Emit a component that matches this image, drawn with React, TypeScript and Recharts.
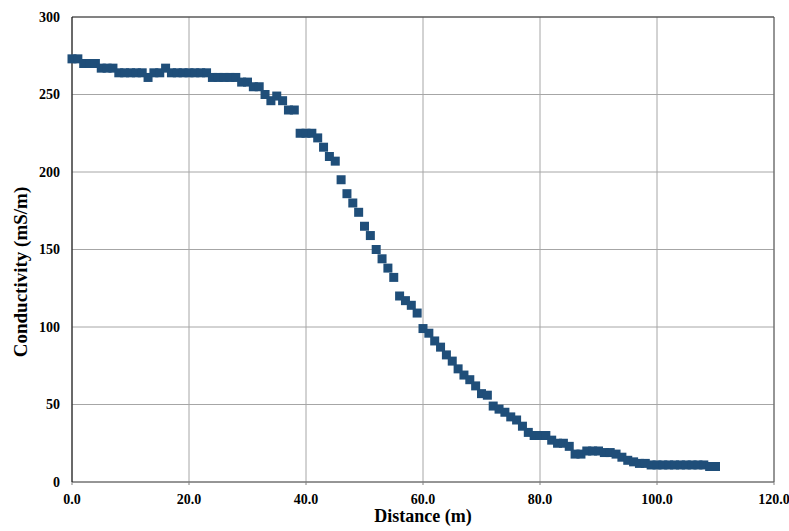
import React from 'react';
import {
  ScatterChart,
  Scatter,
  XAxis,
  YAxis,
  CartesianGrid,
  ReferenceLine,
} from 'recharts';

const distance: number[] = [
  0, 1, 2, 3, 4, 5, 6, 7, 8, 9,
  10, 11, 12, 13, 14, 15, 16, 17, 18, 19,
  20, 21, 22, 23, 24, 25, 26, 27, 28, 29,
  30, 31, 32, 33, 34, 35, 36, 37, 38, 39,
  40, 41, 42, 43, 44, 45, 46, 47, 48, 49,
  50, 51, 52, 53, 54, 55, 56, 57, 58, 59,
  60, 61, 62, 63, 64, 65, 66, 67, 68, 69,
  70, 71, 72, 73, 74, 75, 76, 77, 78, 79,
  80, 81, 82, 83, 84, 85, 86, 87, 88, 89,
  90, 91, 92, 93, 94, 95, 96, 97, 98, 99,
  100, 101, 102, 103, 104, 105, 106, 107, 108, 109,
  110,
];

const conductivity: number[] = [
  273, 273, 270, 270, 270, 267, 267, 267, 264, 264,
  264, 264, 264, 261, 264, 264, 267, 264, 264, 264,
  264, 264, 264, 264, 261, 261, 261, 261, 261, 258,
  258, 255, 255, 250, 246, 249, 246, 240, 240, 225,
  225, 225, 222, 216, 210, 207, 195, 186, 180, 174,
  165, 159, 150, 144, 138, 132, 120, 117, 114, 109,
  99, 96, 91, 87, 82, 78, 73, 69, 66, 62,
  57, 56, 49, 47, 45, 42, 40, 36, 32, 30,
  30, 30, 27, 25, 25, 23, 18, 18, 20, 20,
  20, 19, 19, 18, 16, 14, 13, 12, 12, 11,
  11, 11, 11, 11, 11, 11, 11, 11, 11, 10,
  10,
];

const xTicks: number[] = [0, 20, 40, 60, 80, 100, 120];
const yTicks: number[] = [0, 50, 100, 150, 200, 250, 300];

const data = distance.map((d, i) => ({ x: d, y: conductivity[i] }));

const FONT = '"Liberation Serif", "Times New Roman", serif';
const MARK = '#1f4e79';

const SquareMark = (props: any) => {
  const { cx, cy } = props;
  if (cx == null || cy == null) return null;
  return <rect x={cx - 4.5} y={cy - 4.5} width={9} height={9} fill={MARK} />;
};

const YLabel = () => (
  <text
    x={20}
    y={272}
    transform="rotate(-90 20 272)"
    textAnchor="middle"
    dominantBaseline="central"
    fontFamily={FONT}
    fontWeight="bold"
    fontSize={19}
    fill="#000"
  >
    Conductivity (mS/m)
  </text>
);

export default function App() {
  return (
    <div style={{ position: 'absolute', left: 0, top: 0, background: '#fff' }}>
      <ScatterChart
        width={789}
        height={531}
        margin={{ top: 17, right: 15, bottom: 0, left: 0 }}
      >
        <CartesianGrid stroke="#a6a6a6" strokeWidth={1} />
        <XAxis
          type="number"
          dataKey="x"
          domain={[0, 120]}
          ticks={xTicks}
          interval={0}
          height={49}
          tickFormatter={(v: number) => v.toFixed(1)}
          tick={{ fontFamily: FONT, fontWeight: 'bold', fontSize: 14, fill: '#000' }}
          tickSize={3}
          tickMargin={9}
          tickLine={{ stroke: '#808080' }}
          axisLine={{ stroke: '#595959' }}
          label={{
            value: 'Distance (m)',
            position: 'insideBottom',
            offset: 9,
            style: { fontFamily: FONT, fontWeight: 'bold', fontSize: 18, fill: '#000' },
          }}
        />
        <YAxis
          type="number"
          dataKey="y"
          domain={[0, 300]}
          ticks={yTicks}
          interval={0}
          width={72}
          tick={{ fontFamily: FONT, fontWeight: 'bold', fontSize: 14, fill: '#000' }}
          tickSize={6}
          tickMargin={6}
          tickLine={false}
          axisLine={{ stroke: '#000' }}
          label={{ content: () => <YLabel /> }}
        />
        <ReferenceLine y={300} stroke="#333" />
        <ReferenceLine x={120} stroke="#595959" />
        <Scatter
          data={data}
          shape={<SquareMark />}
          isAnimationActive={false}
        />
      </ScatterChart>
    </div>
  );
}
